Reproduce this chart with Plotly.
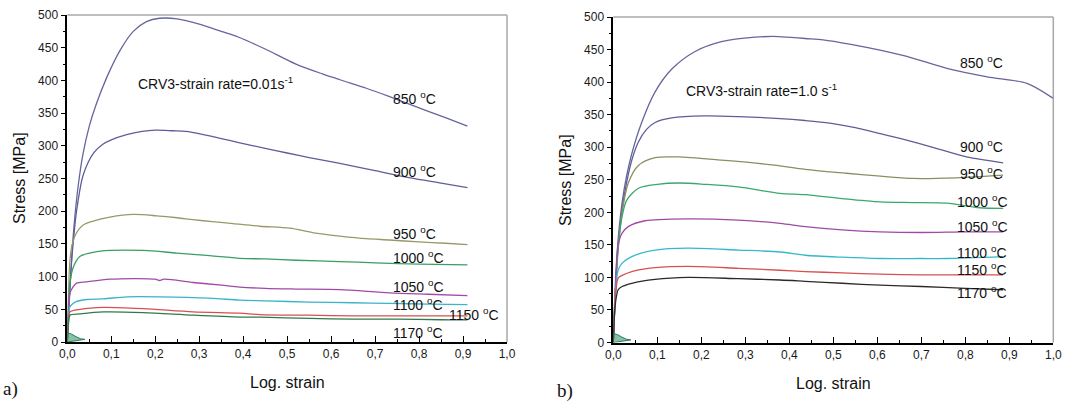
import plotly.graph_objects as go

# ---------------- data (a) strain rate 0.01 s^-1 ----------------
L_850_x = [0, 0.005, 0.01, 0.017, 0.025, 0.035, 0.05, 0.065, 0.09, 0.12, 0.15, 0.18, 0.21, 0.25, 0.30, 0.35, 0.39, 0.45, 0.52, 0.58, 0.62, 0.68, 0.73, 0.80, 0.86, 0.91]
L_850_y = [0, 70, 130, 190, 240, 285, 330, 362, 405, 446, 475, 490, 495, 494, 486, 475, 466, 448, 425, 410, 401, 388, 376, 358, 343, 330]
L_900_x = [0, 0.005, 0.01, 0.014, 0.021, 0.036, 0.06, 0.08, 0.1, 0.135, 0.17, 0.2, 0.24, 0.27, 0.31, 0.35, 0.39, 0.45, 0.5, 0.55, 0.62, 0.7, 0.78, 0.85, 0.91]
L_900_y = [0, 70, 125, 156, 200, 255, 289, 302, 309, 317, 322, 324, 323, 322, 317, 311, 305, 296, 289, 282, 273, 262, 251, 243, 236]
L_950_x = [0, 0.003, 0.006, 0.012, 0.021, 0.036, 0.059, 0.097, 0.15, 0.203, 0.25, 0.286, 0.33, 0.377, 0.438, 0.506, 0.56, 0.62, 0.68, 0.733, 0.8, 0.86, 0.91]
L_950_y = [0, 80, 125, 152, 167, 179, 185, 191, 195, 193, 190, 187, 184, 181, 177, 174, 167, 162, 158, 156, 153, 151, 149]
L_1000_x = [0, 0.003, 0.007, 0.014, 0.029, 0.059, 0.097, 0.173, 0.249, 0.324, 0.392, 0.45, 0.52, 0.62, 0.7, 0.8, 0.91]
L_1000_y = [0, 60, 95, 115, 131, 137, 140, 140, 136, 132, 128, 127, 125, 123, 121, 119, 118]
L_1050_x = [0, 0.003, 0.006, 0.021, 0.044, 0.097, 0.158, 0.2, 0.21, 0.22, 0.286, 0.35, 0.392, 0.45, 0.52, 0.62, 0.733, 0.82, 0.91]
L_1050_y = [0, 50, 75, 90, 92, 96, 97, 96, 94, 96, 91, 87, 84, 82, 81, 80, 75, 73, 71]
L_1100_x = [0, 0.003, 0.006, 0.021, 0.044, 0.082, 0.135, 0.21, 0.324, 0.392, 0.45, 0.55, 0.65, 0.733, 0.82, 0.91]
L_1100_y = [0, 40, 54, 62, 65, 66, 69, 69, 67, 64, 63, 61, 60, 59, 58, 57]
L_1150_x = [0, 0.003, 0.006, 0.029, 0.082, 0.173, 0.286, 0.392, 0.438, 0.55, 0.65, 0.75, 0.85, 0.91]
L_1150_y = [0, 35, 46, 50, 53, 51, 46, 44, 42, 41, 40, 40, 40, 40]
L_1170_x = [0, 0.003, 0.006, 0.029, 0.082, 0.173, 0.286, 0.392, 0.438, 0.55, 0.65, 0.75, 0.85, 0.91]
L_1170_y = [0, 30, 41, 43, 46, 45, 41, 38, 38, 36, 35, 35, 34, 34]

# ---------------- data (b) strain rate 1.0 s^-1 ----------------
R_850_x = [0, 0.005, 0.01, 0.02, 0.03, 0.042, 0.0645, 0.095, 0.133, 0.186, 0.246, 0.322, 0.375, 0.436, 0.477, 0.54, 0.606, 0.68, 0.758, 0.85, 0.94, 1.0]
R_850_y = [0, 80, 150, 215, 255, 290, 338, 385, 420, 447, 462, 469, 470, 467, 465, 458, 449, 437, 421, 408, 398, 375]
R_900_x = [0, 0.005, 0.01, 0.02, 0.03, 0.042, 0.057, 0.075, 0.095, 0.133, 0.208, 0.284, 0.379, 0.436, 0.492, 0.55, 0.606, 0.66, 0.72, 0.803, 0.886]
R_900_y = [0, 80, 140, 205, 245, 280, 308, 327, 338, 345, 348, 347, 344, 341, 337, 330, 321, 312, 301, 285, 276]
R_950_x = [0, 0.005, 0.012, 0.02, 0.034, 0.057, 0.095, 0.148, 0.246, 0.36, 0.436, 0.53, 0.6, 0.68, 0.78, 0.886]
R_950_y = [0, 80, 150, 200, 245, 272, 284, 285, 280, 273, 266, 260, 256, 252, 253, 257]
R_1000_x = [0, 0.005, 0.01, 0.019, 0.03, 0.057, 0.1, 0.15, 0.208, 0.284, 0.379, 0.436, 0.52, 0.606, 0.68, 0.758, 0.833, 0.886]
R_1000_y = [0, 80, 140, 190, 218, 237, 243, 245, 243, 239, 229, 227, 221, 216, 215, 214, 207, 206]
R_1050_x = [0, 0.004, 0.011, 0.02, 0.034, 0.072, 0.17, 0.284, 0.379, 0.436, 0.52, 0.606, 0.7, 0.8, 0.886]
R_1050_y = [0, 80, 150, 168, 178, 187, 190, 188, 183, 178, 173, 170, 169, 170, 170]
R_1100_x = [0, 0.004, 0.011, 0.02, 0.042, 0.095, 0.17, 0.284, 0.379, 0.436, 0.52, 0.606, 0.7, 0.758, 0.886]
R_1100_y = [0, 70, 111, 122, 132, 142, 145, 142, 139, 134, 131, 129, 129, 129, 132]
R_1150_x = [0, 0.004, 0.011, 0.02, 0.042, 0.095, 0.17, 0.284, 0.379, 0.436, 0.52, 0.606, 0.7, 0.8, 0.886]
R_1150_y = [0, 65, 99, 103, 109, 115, 117, 114, 111, 109, 107, 105, 104, 104, 104]
R_1170_x = [0, 0.004, 0.011, 0.02, 0.042, 0.095, 0.17, 0.284, 0.379, 0.436, 0.52, 0.606, 0.7, 0.8, 0.886]
R_1170_y = [0, 55, 81, 86, 91, 97, 100, 98, 96, 94, 91, 88, 86, 83, 81]

# unloading noise near origin
N_x = [0, 0.01, 0.02, 0.03, 0.04, 0.02, 0]
N_y = [14, 12, 8, 5, 4, 2, 0]

temps = ["850", "900", "950", "1000", "1050", "1100", "1150", "1170"]

# label positions (strain, stress)
L_lab_x = [0.736, 0.736, 0.736, 0.736, 0.736, 0.736, 0.863, 0.736]
L_lab_y = [373, 261, 167, 130, 86, 58, 43, 15]
R_lab_x = [0.783, 0.783, 0.783, 0.776, 0.776, 0.776, 0.776, 0.776]
R_lab_y = [431, 302, 260, 217, 179, 139, 113, 78]

L_col = ["#66669e", "#5e5e98", "#9a9868", "#3a9e62", "#a04aa8", "#3ab4c8", "#d65050", "#2f7a4c"]
R_col = ["#66669e", "#5e5e98", "#8e8c64", "#3aa86c", "#a04aa8", "#36b8cc", "#d65050", "#2a2a2a"]

left = [(L_850_x, L_850_y), (L_900_x, L_900_y), (L_950_x, L_950_y), (L_1000_x, L_1000_y),
        (L_1050_x, L_1050_y), (L_1100_x, L_1100_y), (L_1150_x, L_1150_y), (L_1170_x, L_1170_y)]
right = [(R_850_x, R_850_y), (R_900_x, R_900_y), (R_950_x, R_950_y), (R_1000_x, R_1000_y),
         (R_1050_x, R_1050_y), (R_1100_x, R_1100_y), (R_1150_x, R_1150_y), (R_1170_x, R_1170_y)]

fig = go.Figure()
for (x, y), c in zip(left, L_col):
    fig.add_trace(go.Scatter(x=x, y=y, mode="lines", line=dict(color=c, width=1.3, shape="spline", smoothing=0.8),
                             xaxis="x", yaxis="y", showlegend=False, hoverinfo="skip"))
for (x, y), c in zip(right, R_col):
    fig.add_trace(go.Scatter(x=x, y=y, mode="lines", line=dict(color=c, width=1.3, shape="spline", smoothing=0.8),
                             xaxis="x2", yaxis="y2", showlegend=False, hoverinfo="skip"))
for xa, ya in (("x", "y"), ("x2", "y2")):
    fig.add_trace(go.Scatter(x=N_x, y=N_y, mode="lines", fill="toself", fillcolor="rgba(60,150,110,0.6)",
                             line=dict(color="#2a7a5a", width=1),
                             xaxis=xa, yaxis=ya, showlegend=False, hoverinfo="skip"))

FONT = "Liberation Sans, Arial, sans-serif"
TXT = "#111"
W, H = 1070, 404

def xax(x0, x1):
    return dict(domain=[x0 / W, x1 / W], range=[0, 1.0], dtick=0.1, tick0=0, tickformat=".1f",
                ticks="inside", ticklen=6, tickwidth=1, tickcolor="#000", automargin=False,
                minor=dict(ticks="inside", ticklen=3, dtick=0.05, tickcolor="#000"),
                showline=True, linecolor="#000", linewidth=1.5, showgrid=False, zeroline=False,
                tickfont=dict(family=FONT, size=12, color="#1a1a1a"))

def yax(y_top, y_bot, anchor):
    return dict(domain=[1 - y_bot / H, 1 - y_top / H], range=[0, 500], dtick=50, anchor=anchor,
                ticks="outside", ticklen=5, tickwidth=1, tickcolor="#000", automargin=False,
                minor=dict(ticks="outside", ticklen=3, dtick=25, tickcolor="#000"),
                showline=True, linecolor="#000", linewidth=1.5, showgrid=False, zeroline=False,
                tickfont=dict(family=FONT, size=12, color="#1a1a1a"))

annotations = []
for t, lx, ly in zip(temps, L_lab_x, L_lab_y):
    annotations.append(dict(x=lx, y=ly, xref="x", yref="y", text=f"{t} <sup>o</sup>C", showarrow=False,
                            xanchor="left", yanchor="middle", font=dict(family=FONT, size=14, color=TXT)))
for t, lx, ly in zip(temps, R_lab_x, R_lab_y):
    annotations.append(dict(x=lx, y=ly, xref="x2", yref="y2", text=f"{t} <sup>o</sup>C", showarrow=False,
                            xanchor="left", yanchor="middle", font=dict(family=FONT, size=14, color=TXT)))
annotations += [
    dict(x=0.156, y=396, xref="x", yref="y", text="CRV3-strain rate=0.01s<sup>-1</sup>", showarrow=False,
         xanchor="left", yanchor="middle", font=dict(family=FONT, size=14, color=TXT)),
    dict(x=0.161, y=388, xref="x2", yref="y2", text="CRV3-strain rate=1.0 s<sup>-1</sup>", showarrow=False,
         xanchor="left", yanchor="middle", font=dict(family=FONT, size=14, color=TXT)),
    dict(x=287 / W, y=1 - 382 / H, xref="paper", yref="paper", text="Log. strain", showarrow=False,
         xanchor="center", yanchor="middle", font=dict(family=FONT, size=16, color=TXT)),
    dict(x=833 / W, y=1 - 383 / H, xref="paper", yref="paper", text="Log. strain", showarrow=False,
         xanchor="center", yanchor="middle", font=dict(family=FONT, size=16, color=TXT)),
    dict(x=20 / W, y=1 - 178 / H, xref="paper", yref="paper", text="Stress [MPa]", showarrow=False, textangle=-90,
         xanchor="center", yanchor="middle", font=dict(family=FONT, size=16, color=TXT)),
    dict(x=566 / W, y=1 - 180 / H, xref="paper", yref="paper", text="Stress [MPa]", showarrow=False, textangle=-90,
         xanchor="center", yanchor="middle", font=dict(family=FONT, size=16, color=TXT)),
    dict(x=1 / W, y=1 - 389 / H, xref="paper", yref="paper", text="a)", showarrow=False,
         xanchor="left", yanchor="middle", font=dict(family="Liberation Serif, Times New Roman, serif", size=19, color=TXT)),
    dict(x=555 / W, y=1 - 391 / H, xref="paper", yref="paper", text="b)", showarrow=False,
         xanchor="left", yanchor="middle", font=dict(family="Liberation Serif, Times New Roman, serif", size=19, color=TXT)),
]

shapes = []
for xr, yr in (("x domain", "y domain"), ("x2 domain", "y2 domain")):
    shapes.append(dict(type="line", xref=xr, yref=yr, x0=0, x1=1, y0=1, y1=1, line=dict(color="#a8a8a8", width=1.5)))
    shapes.append(dict(type="line", xref=xr, yref=yr, x0=1, x1=1, y0=0, y1=1, line=dict(color="#a8a8a8", width=1.5)))

fig.update_layout(
    width=W, height=H, margin=dict(l=0, r=0, t=0, b=0, autoexpand=False),
    paper_bgcolor="white", plot_bgcolor="white", separators=",.",
    xaxis=dict(**xax(67.3, 507), anchor="y"),
    yaxis=yax(15, 342, "x"),
    xaxis2=dict(**xax(613.3, 1053.3), anchor="y2"),
    yaxis2=yax(17, 342.5, "x2"),
    annotations=annotations, shapes=shapes, showlegend=False,
)
fig.write_html("out.html", config={"displayModeBar": False},
               post_script="document.body.style.margin='0';document.body.style.overflow='hidden';")
